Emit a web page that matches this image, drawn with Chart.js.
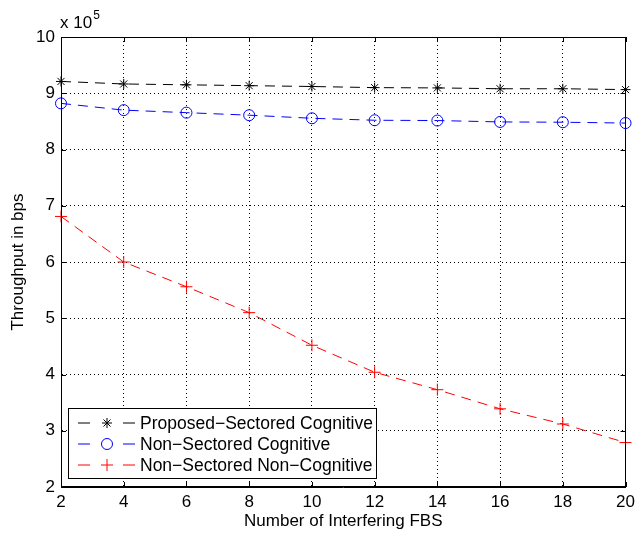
<!DOCTYPE html>
<html>
<head>
<meta charset="utf-8">
<script src="https://cdn.jsdelivr.net/npm/chart.js@4.4.1/dist/chart.umd.min.js"></script>
<style>
  html, body { margin: 0; padding: 0; background: #fff; }
  #wrap { width: 640px; height: 533px; }
</style>
</head>
<body>
<div id="wrap"><canvas id="throughputChart" width="640" height="533"></canvas></div>
<script>
// values, in units of 1e5 bps
const interferingFBS = [2, 4, 6, 8, 10, 12, 14, 16, 18, 20];
const proposedSectored = [9.21, 9.165, 9.15, 9.135, 9.12, 9.10, 9.095, 9.08, 9.08, 9.065];
const nonSectoredCognitive = [8.82, 8.70, 8.655, 8.61, 8.555, 8.52, 8.515, 8.49, 8.485, 8.47];
const nonSectoredNonCognitive = [6.81, 6.0, 5.56, 5.10, 4.52, 4.04, 3.73, 3.39, 3.12, 2.79];
const yTicks = [2, 3, 4, 5, 6, 7, 8, 9, 10];
const xTicks = [2, 4, 6, 8, 10, 12, 14, 16, 18, 20];

const FONT = "'Liberation Sans', Arial, sans-serif";

function toPoints(values) {
    return interferingFBS.map((x, i) => ({ x: x, y: values[i] }));
}

const seriesList = [
    { label: "Proposed\u2212Sectored Cognitive", data: proposedSectored, color: "#000000", marker: "star", radius: 5 },
    { label: "Non\u2212Sectored Cognitive", data: nonSectoredCognitive, color: "#0000ff", marker: "circle", radius: 5.5 },
    { label: "Non\u2212Sectored Non\u2212Cognitive", data: nonSectoredNonCognitive, color: "#ff0000", marker: "cross", radius: 6 }
];

// box frame, inward ticks, exponent label and the in-plot legend
const matlabLook = {
    id: "matlabLook",
    afterDraw(chart) {
        const ctx = chart.ctx;
        const a = chart.chartArea;
        const xs = chart.scales.x;
        const ys = chart.scales.y;
        ctx.save();
        ctx.strokeStyle = "#000";
        ctx.lineWidth = 1;
        ctx.setLineDash([]);
        ctx.strokeRect(Math.round(a.left) + 0.5, Math.round(a.top) + 0.5,
            Math.round(a.width) - 1, Math.round(a.height) - 1);

        ctx.beginPath();
        xTicks.forEach(v => {
            const px = Math.round(xs.getPixelForValue(v)) + 0.5;
            ctx.moveTo(px, a.bottom); ctx.lineTo(px, a.bottom - 5);
            ctx.moveTo(px, a.top); ctx.lineTo(px, a.top + 5);
        });
        yTicks.forEach(v => {
            const py = Math.round(ys.getPixelForValue(v)) + 0.5;
            ctx.moveTo(a.left, py); ctx.lineTo(a.left + 5, py);
            ctx.moveTo(a.right, py); ctx.lineTo(a.right - 5, py);
        });
        ctx.stroke();

        // x 10^5 multiplier
        ctx.fillStyle = "#000";
        ctx.textBaseline = "alphabetic";
        ctx.textAlign = "left";
        ctx.font = "17px " + FONT;
        ctx.fillText("x 10", a.left - 1, a.top - 9);
        const w = ctx.measureText("x 10").width;
        ctx.font = "12px " + FONT;
        ctx.fillText("5", a.left + w, a.top - 18);

        // legend box
        const bx = a.left + 7, by = 408, bw = 308, bh = 70;
        ctx.fillStyle = "#fff";
        ctx.fillRect(bx, by, bw, bh);
        ctx.strokeRect(bx + 0.5, by + 0.5, bw, bh);
        ctx.font = "17.5px " + FONT;
        ctx.textBaseline = "middle";
        seriesList.forEach((s, i) => {
            const ry = by + 15 + i * 21;
            ctx.strokeStyle = s.color;
            ctx.lineWidth = 1;
            ctx.beginPath();
            ctx.moveTo(bx + 10, ry); ctx.lineTo(bx + 22, ry);
            ctx.moveTo(bx + 55, ry); ctx.lineTo(bx + 67, ry);
            ctx.stroke();
            ctx.fillStyle = "rgba(0,0,0,0)";
            Chart.helpers.drawPoint(ctx, { pointStyle: s.marker, radius: s.radius, rotation: 0, borderWidth: 1 }, bx + 39, ry);
            ctx.fillStyle = "#000";
            ctx.fillText(s.label, bx + 72, ry + 1);
        });
        ctx.restore();
    }
};

const ctx = document.getElementById("throughputChart").getContext("2d");
const chart = new Chart(ctx, {
    type: "line",
    data: {
        datasets: seriesList.map(s => ({
            label: s.label,
            data: toPoints(s.data),
            borderColor: s.color,
            backgroundColor: "rgba(0,0,0,0)",
            borderWidth: 1,
            borderDash: [10, 7],
            pointStyle: s.marker,
            pointRadius: s.radius,
            pointBorderColor: s.color,
            pointBackgroundColor: "rgba(0,0,0,0)",
            pointBorderWidth: 1,
            tension: 0,
            clip: false
        }))
    },
    options: {
        responsive: false,
        animation: false,
        layout: { padding: { top: 37, right: 10, left: 0, bottom: 0 } },
        plugins: {
            legend: { display: false },
            tooltip: { enabled: false }
        },
        scales: {
            x: {
                type: "linear",
                min: 2,
                max: 20,
                afterBuildTicks: s => { s.ticks = xTicks.map(v => ({ value: v })); },
                afterFit: s => { s.height = 46; },
                ticks: { color: "#000", font: { family: FONT, size: 17 }, padding: 5, maxRotation: 0 },
                grid: { color: "#000", lineWidth: 1, drawTicks: false },
                border: { display: true, color: "#000", dash: [1, 3] },
                title: { display: true, text: "Number of Interfering FBS", color: "#000", font: { family: FONT, size: 17 }, padding: { top: 0, bottom: 1 } }
            },
            y: {
                type: "linear",
                min: 2,
                max: 10,
                afterBuildTicks: s => { s.ticks = yTicks.map(v => ({ value: v })); },
                afterFit: s => { s.width = 61; },
                ticks: { color: "#000", font: { family: FONT, size: 17 }, padding: 6 },
                grid: { color: "#000", lineWidth: 1, drawTicks: false },
                border: { display: true, color: "#000", dash: [1, 3] },
                title: { display: true, text: "Throughput in bps", color: "#000", font: { family: FONT, size: 17 }, padding: { top: 8, bottom: 0 } }
            }
        }
    },
    plugins: [matlabLook]
});
</script>
</body>
</html>
